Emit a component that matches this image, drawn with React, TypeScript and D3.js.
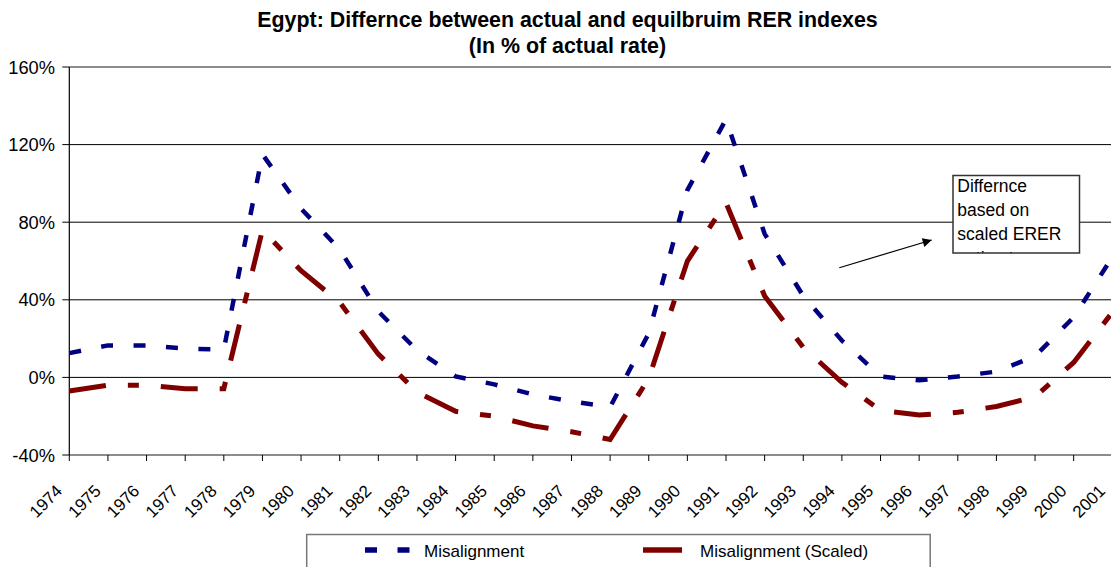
import React, { useEffect } from "react";
import * as d3 from "d3";

const years = ["1974","1975","1976","1977","1978","1979","1980","1981","1982","1983","1984","1985","1986","1987","1988","1989","1990","1991","1992","1993","1994","1995","1996","1997","1998","1999","2000","2001"];
const misalignment = [12.5, 16.5, 16.5, 14.8, 14.4, 115, 87, 66, 34, 14, 0.5, -3.6, -8.8, -12.4, -15.3, 22.7, 96.5, 133, 74, 42, 19, 0.5, -1.5, 0.5, 3, 11, 31, 62];
const misalignmentScaled = [-7, -4, -4, -5.8, -5.8, 76, 55, 38.7, 12, -7.5, -17.5, -20, -25, -28, -32, -0.5, 60, 90, 42, 15.5, -2.5, -17, -19.4, -18, -15, -10, 7.7, 33.5];
const yTicks = [-40, 0, 40, 80, 120, 160];
const titleLines = ["Egypt: Differnce between actual and equilbruim RER indexes", "(In % of actual rate)"];
const noteLines = ["Differnce", "based on", "scaled ERER", "estimates"];
const seriesNames = ["Misalignment", "Misalignment (Scaled)"];

const W = 1111, H = 567;
const FONT = "'Liberation Sans', Arial, Helvetica, sans-serif";
const BLUE = "#000080";
const RED = "#800000";

export default function App() {
  useEffect(() => {
    document.body.style.margin = "0";
  }, []);

  const x = d3.scalePoint<string>().domain(years).range([69.3, 1112.3]);
  const y = d3.scaleLinear().domain([-40, 160]).range([455, 67]);
  const x0 = x(years[0]) as number;

  const line = d3
    .line<number>()
    .x((_, i) => x(years[i]) as number)
    .y((d) => y(d));

  return (
    <svg width={W} height={H} style={{ position: "absolute", left: 0, top: 0, display: "block", background: "#fff" }} fontFamily={FONT}>
      <defs>
        <clipPath id="noteClip">
          <rect x={953} y={175.5} width={126.5} height={77.5} />
        </clipPath>
        <marker id="arrowHead" viewBox="0 0 10 10" refX={10} refY={5} markerWidth={11} markerHeight={9} markerUnits="userSpaceOnUse" orient="auto">
          <path d="M0,0 L10,5 L0,10 z" fill="#000" />
        </marker>
      </defs>

      {/* Title */}
      {titleLines.map((t, i) => (
        <text key={t} x={567.5} y={27 + i * 26} textAnchor="middle" fontSize={21.4} fontWeight="bold" fill="#000">
          {t}
        </text>
      ))}

      {/* Gridlines */}
      {yTicks.map((v) => {
        const yy = y(v);
        const isTop = v === 160;
        const isBottom = v === -40;
        return (
          <line
            key={"g" + v}
            x1={x0}
            x2={W}
            y1={yy}
            y2={yy}
            stroke={isTop || isBottom ? "#666" : "#000"}
            strokeWidth={isTop || isBottom ? 1.6 : 1}
          />
        );
      })}

      {/* Y axis */}
      <line x1={x0} x2={x0} y1={y(160)} y2={y(-40)} stroke="#000" strokeWidth={1.2} />
      {yTicks.map((v) => (
        <g key={"yt" + v}>
          <line x1={x0 - 7} x2={x0} y1={y(v)} y2={y(v)} stroke="#000" strokeWidth={1} />
          <text x={55} y={y(v)} dy="0.36em" textAnchor="end" fontSize={18.3} fill="#000">
            {v + "%"}
          </text>
        </g>
      ))}

      {/* X ticks and labels */}
      {years.map((yr) => {
        const xx = x(yr) as number;
        return (
          <g key={"xt" + yr}>
            <line x1={xx} x2={xx} y1={y(-40)} y2={y(-40) + 6} stroke="#000" strokeWidth={1} />
            <text
              transform={`translate(${xx - 6},${492}) rotate(-45)`}
              textAnchor="end"
              fontSize={17}
              fill="#000"
            >
              {yr}
            </text>
          </g>
        );
      })}

      {/* Series */}
      <path d={line(misalignmentScaled) || ""} fill="none" stroke={RED} strokeWidth={5} strokeDasharray="37,22,11,22" strokeLinejoin="miter" />
      <path d={line(misalignment) || ""} fill="none" stroke={BLUE} strokeWidth={4.5} strokeDasharray="12,20.5" strokeLinejoin="miter" />

      {/* Annotation */}
      <line x1={839.3} y1={267.7} x2={931.7} y2={240} stroke="#000" strokeWidth={1.2} markerEnd="url(#arrowHead)" />
      <rect x={953} y={175.5} width={126.5} height={77.5} fill="#fff" stroke="#333" strokeWidth={1.5} />
      <g clipPath="url(#noteClip)">
        {noteLines.map((t, i) => (
          <text key={t} x={957.3} y={191.7 + i * 24.2} fontSize={17.5} fill="#000">
            {t}
          </text>
        ))}
      </g>

      {/* Legend */}
      <rect x={306.7} y={534.5} width={623.5} height={40} fill="#fff" stroke="#777" strokeWidth={1.5} />
      <line x1={365} x2={410} y1={550} y2={550} stroke={BLUE} strokeWidth={5.5} strokeDasharray="12,20.5" />
      <text x={424} y={551} dy="0.36em" fontSize={17} fill="#000">
        {seriesNames[0]}
      </text>
      <line x1={643} x2={682} y1={550} y2={550} stroke={RED} strokeWidth={5.5} />
      <text x={700} y={551} dy="0.36em" fontSize={17} fill="#000">
        {seriesNames[1]}
      </text>
    </svg>
  );
}
